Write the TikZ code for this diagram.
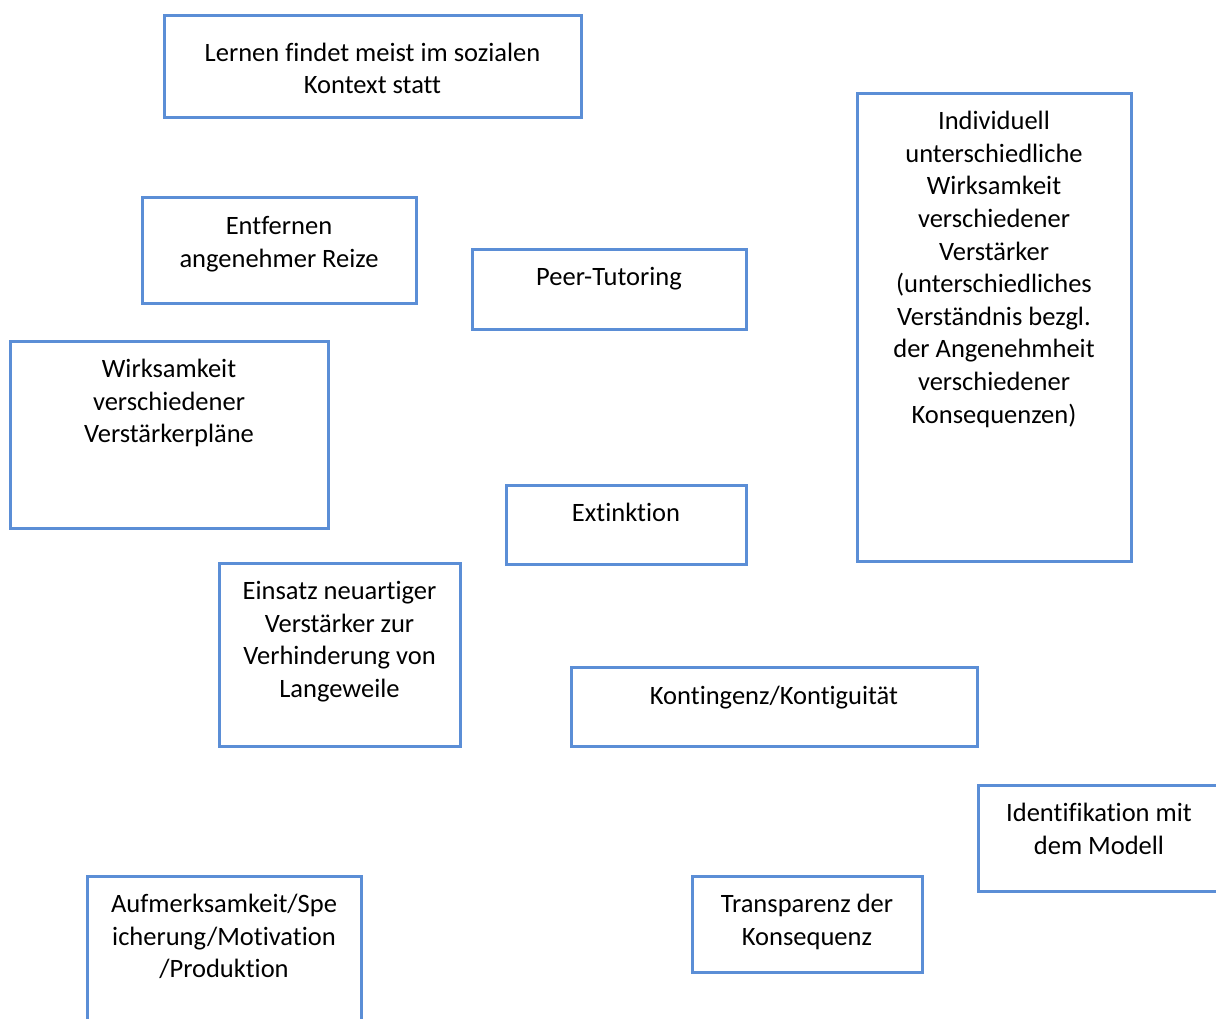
\documentclass[tikz,border=0pt]{standalone}
\usepackage{fontspec}
\setmainfont[Ligatures=NoCommon]{Carlito}
\definecolor{boxblue}{RGB}{91,142,214}
\tikzset{
  box/.style={draw=boxblue, line width=3pt, inner sep=0pt, fill=none},
  txt/.style={anchor=north, align=center, inner sep=0pt, text=black,
    font=\fontsize{26.5}{32.6}\selectfont}
}
\begin{document}
\begin{tikzpicture}[x=1pt,y=-1pt]
\useasboundingbox (0,0) rectangle (1216,1018);
\fill[white] (0,0) rectangle (1216,1018);
% boxes
\node[box, minimum width=417pt, minimum height=102pt] (b1) at (372.5,66) {};
\node[box, minimum width=274pt, minimum height=468pt] (b2) at (994,327) {};
\node[box, minimum width=274pt, minimum height=106pt] (b3) at (279,250) {};
\node[box, minimum width=274pt, minimum height=80pt] (b4) at (609,289) {};
\node[box, minimum width=318pt, minimum height=187pt] (b5) at (169,434.5) {};
\node[box, minimum width=240pt, minimum height=79pt] (b6) at (626,524.5) {};
\node[box, minimum width=241pt, minimum height=183pt] (b7) at (339.5,654.5) {};
\node[box, minimum width=406pt, minimum height=79pt] (b8) at (774,706.5) {};
\node[box, minimum width=242pt, minimum height=106pt] (b9) at (1099,838) {};
\node[box, minimum width=230pt, minimum height=96pt] (b10) at (807,924) {};
\node[box, minimum width=274pt, minimum height=164pt] (b11) at (224,958) {};
% texts
\node[txt] (t1) at (372.5,38) {\strut Lernen findet meist im sozialen\\Kontext statt};
\node[txt] (t2) at (994,106.7) {\strut Individuell\\unterschiedliche\\Wirksamkeit\\verschiedener\\Verstärker\\(unterschiedliches\\Verständnis bezgl.\\der Angenehmheit\\verschiedener\\Konsequenzen)};
\node[txt] (t3) at (279,211.7) {\strut Entfernen\\angenehmer Reize};
\node[txt] (t4) at (609,262.7) {\strut Peer-Tutoring};
\node[txt] (t5) at (169,354.7) {\strut Wirksamkeit\\verschiedener\\Verstärkerpläne};
\node[txt] (t6) at (626,498.7) {\strut Extinktion};
\node[txt] (t7) at (339.5,576.7) {\strut Einsatz neuartiger\\Verstärker zur\\Verhinderung von\\Langeweile};
\node[txt] (t8) at (774,681.7) {\strut Kontingenz/Kontiguität};
\node[txt] (t9) at (1099,798.7) {\strut Identifikation mit\\dem Modell};
\node[txt] (t10) at (807,889.7) {\strut Transparenz der\\Konsequenz};
\node[txt] (t11) at (224,889.7) {\strut Aufmerksamkeit/Spe\\icherung/Motivation\\/Produktion};
\end{tikzpicture}
\end{document}
